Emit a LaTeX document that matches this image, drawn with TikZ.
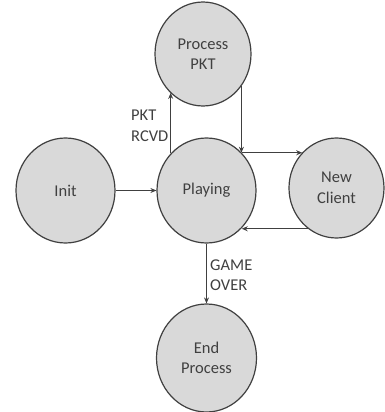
\documentclass[tikz,border=0pt]{standalone}
\usepackage{fontspec}
\setmainfont{Carlito}
\usetikzlibrary{shapes.geometric,arrows.meta}

\definecolor{statefill}{HTML}{D9D9D9}
\definecolor{ink}{HTML}{404040}

\tikzset{
  state/.style={ellipse, draw=ink, line width=1.2pt, fill=statefill,
    inner sep=0pt, text=ink, align=center,
    font=\fontsize{16.5}{20.5}\selectfont},
  link/.style={draw=ink, line width=0.9pt,
    -{Stealth[length=6pt,width=5pt]}},
  tag/.style={text=ink, align=left, inner sep=0pt,
    font=\fontsize{16.5}{20.5}\selectfont}
}

\begin{document}
\begin{tikzpicture}[x=1pt, y=-1pt]
  \useasboundingbox (0,0) rectangle (385,412);

  % states
  \node[state, minimum width=96pt, minimum height=104pt] (procpkt) at (203,54) {Process\\PKT};
  \node[state, minimum width=99pt, minimum height=105pt] (playing) at (206.5,190.5) {Playing};
  \node[state, minimum width=99pt, minimum height=105pt] (init) at (65.5,190.5) {Init};
  \node[state, minimum width=95pt, minimum height=100pt] (newclient) at (336.5,188) {New\\Client};
  \node[state, minimum width=100pt, minimum height=108pt] (endproc) at (206.5,358) {End\\Process};

  % transitions
  \draw[link] (init) -- (playing);
  \draw[link] (playing) -- (endproc);
  \draw[link] (playing.134) -- (playing.134 |- procpkt.230);
  \draw[link] (procpkt.320) -- (procpkt.320 |- playing.47);
  \draw[link] (playing.47) -- (playing.47 -| newclient.134);
  \draw[link] (newclient.235) -- (newclient.235 -| playing.313);

  % transition labels
  \node[tag, anchor=west] (lblpkt) at (131,126) {PKT\\RCVD};
  \node[tag, anchor=west] (lblover) at (210,275) {GAME\\OVER};
\end{tikzpicture}
\end{document}
